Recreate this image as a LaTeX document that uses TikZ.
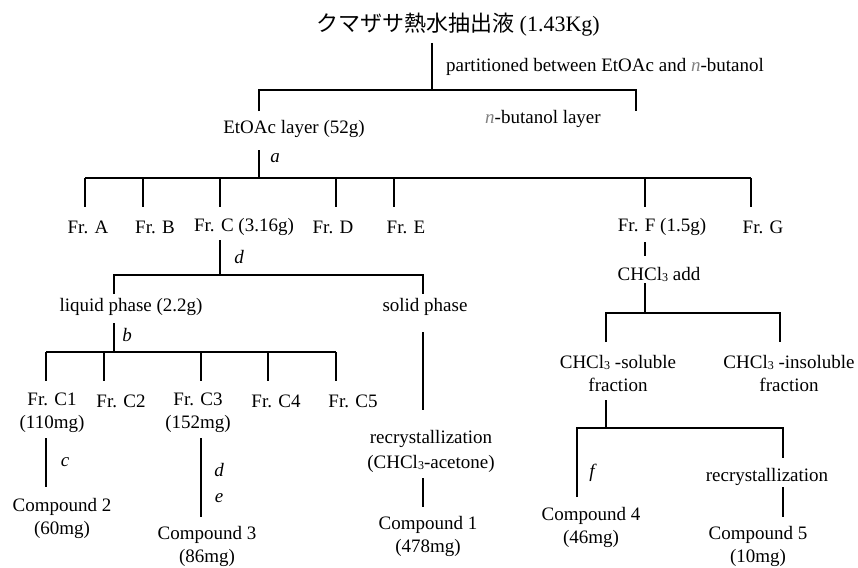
\documentclass[tikz,border=0pt]{standalone}
\usepackage{fontspec}
\setmainfont{Liberation Serif}
\newfontfamily\cjk{Noto Sans CJK JP}
\definecolor{ngray}{RGB}{130,130,130}
\newcommand{\nb}{\textcolor{ngray}{\textit{n}}}
\newcommand{\chcl}{CHCl\raisebox{-0.12ex}{\fontsize{12}{12}\selectfont 3}}
\begin{document}
\begin{tikzpicture}[x=1pt,y=-1pt,
  lbl/.style={inner sep=0pt, align=center, font=\fontsize{19}{23}\selectfont},
  itl/.style={inner sep=0pt, font=\fontsize{19}{23}\selectfont\itshape},
  ln/.style={line width=1.2pt}]
\useasboundingbox[fill=white] (0,0) rectangle (858,567);

% ---------- text nodes ----------
\node[lbl, font=\fontsize{22}{26}\selectfont] (title) at (458,25) {{\cjk クマザサ熱水抽出液} (1.43Kg)};
\node[lbl, anchor=west] (part) at (446,67) {partitioned between EtOAc and \nb-butanol};
\node[lbl] (etoac) at (294,129) {EtOAc layer (52g)};
\node[lbl, anchor=west] (buta) at (485,119) {\nb-butanol layer};
\node[itl] (la) at (275,158) {a};

\node[lbl] (frA) at (88,227) {Fr. A};
\node[lbl] (frB) at (155,227) {Fr. B};
\node[lbl] (frC) at (244,227) {Fr. C (3.16g)};
\node[lbl] (frD) at (333,227) {Fr. D};
\node[lbl] (frE) at (406,227) {Fr. E};
\node[lbl] (frF) at (662,227) {Fr. F (1.5g)};
\node[lbl] (frG) at (763,227) {Fr. G};

\node[itl] (ld) at (239,257) {d};
\node[lbl] (liq) at (131,307) {liquid phase (2.2g)};
\node[lbl] (sol) at (425,307) {solid phase};
\node[itl] (lb) at (127,335) {b};

\node[lbl] (c1) at (52,413) {Fr. C1\\(110mg)};
\node[lbl] (c2) at (121,401) {Fr. C2};
\node[lbl] (c3) at (198,413) {Fr. C3\\(152mg)};
\node[lbl] (c4) at (276,401) {Fr. C4};
\node[lbl] (c5) at (353,401) {Fr. C5};

\node[itl] (lc) at (65,462) {c};
\node[itl] (ld2) at (219,470) {d};
\node[itl] (le) at (219,498) {e};
\node[lbl] (cp2) at (62,518) {Compound 2\\(60mg)};
\node[lbl] (cp3) at (207,546) {Compound 3\\(86mg)};

\node[lbl, font=\fontsize{19}{25}\selectfont] (rec1) at (431,451) {recrystallization\\(\chcl-acetone)};
\node[lbl] (cp1) at (428,536) {Compound 1\\(478mg)};

\node[lbl] (add) at (659,274) {\chcl\ add};
\node[lbl] (solu) at (618,373) {\chcl\ -soluble\\fraction};
\node[lbl] (insol) at (789,373) {\chcl\ -insoluble\\fraction};
\node[itl] (lf) at (592,473) {f};
\node[lbl] (rec2) at (767,477) {recrystallization};
\node[lbl] (cp4) at (591,527) {Compound 4\\(46mg)};
\node[lbl] (cp5) at (758,546) {Compound 5\\(10mg)};

% ---------- connectors ----------
% level 1
\coordinate (t0) at (432,43); \coordinate (t1) at (432,90);
\coordinate (t2) at (259,90); \coordinate (t3) at (636,90);
\coordinate (t4) at (259,111); \coordinate (t5) at (636,111);
\draw[ln] (t0) -- (t1);
\draw[ln] (t4) -- (t2) -- (t3) -- (t5);

% EtOAc -> fractions
\coordinate (e0) at (259,150); \coordinate (e1) at (259,178);
\coordinate (e2) at (85,178); \coordinate (e3) at (751,178);
\draw[ln] (e0) -- (e1);
\draw[ln] (e2) -- (e3);
\foreach \x [count=\i] in {85,143,220,336,394,645,751}{
  \coordinate (ea\i) at (\x,178); \coordinate (eb\i) at (\x,207);
  \draw[ln] (ea\i) -- (eb\i);
}

% Fr. C -> phases
\coordinate (f0) at (220,240); \coordinate (f1) at (220,275);
\coordinate (f2) at (114,275); \coordinate (f3) at (423,275);
\coordinate (f4) at (114,294); \coordinate (f5) at (423,294);
\draw[ln] (f0) -- (f1);
\draw[ln] (f4) -- (f2) -- (f3) -- (f5);

% liquid phase -> C1..C5
\coordinate (g0) at (114,323); \coordinate (g1) at (114,352);
\coordinate (g2) at (46,352); \coordinate (g3) at (336,352);
\draw[ln] (g0) -- (g1);
\draw[ln] (g2) -- (g3);
\foreach \x [count=\i] in {46,104,201,268,336}{
  \coordinate (ga\i) at (\x,352); \coordinate (gb\i) at (\x,381);
  \draw[ln] (ga\i) -- (gb\i);
}

% C1 -> compound 2, C3 -> compound 3
\coordinate (h0) at (46,438); \coordinate (h1) at (46,487);
\draw[ln] (h0) -- (h1);
\coordinate (h2) at (201,438); \coordinate (h3) at (201,517);
\draw[ln] (h2) -- (h3);

% solid phase
\coordinate (s0) at (423,332); \coordinate (s1) at (423,410);
\coordinate (s2) at (423,478); \coordinate (s3) at (423,507);
\draw[ln] (s0) -- (s1);
\draw[ln] (s2) -- (s3);

% Fr. F branch
\coordinate (k0) at (645,242); \coordinate (k1) at (645,256);
\coordinate (k2) at (645,283); \coordinate (k3) at (645,313);
\coordinate (k4) at (606,313); \coordinate (k5) at (780,313);
\coordinate (k6) at (606,342); \coordinate (k7) at (780,342);
\draw[ln] (k0) -- (k1);
\draw[ln] (k2) -- (k3);
\draw[ln] (k6) -- (k4) -- (k5) -- (k7);

% soluble fraction
\coordinate (m0) at (606,400); \coordinate (m1) at (606,428);
\coordinate (m2) at (577,428); \coordinate (m3) at (783,428);
\coordinate (m4) at (577,497); \coordinate (m5) at (783,458);
\coordinate (m6) at (783,487); \coordinate (m7) at (783,517);
\draw[ln] (m0) -- (m1);
\draw[ln] (m4) -- (m2) -- (m3) -- (m5);
\draw[ln] (m6) -- (m7);
\end{tikzpicture}
\end{document}
